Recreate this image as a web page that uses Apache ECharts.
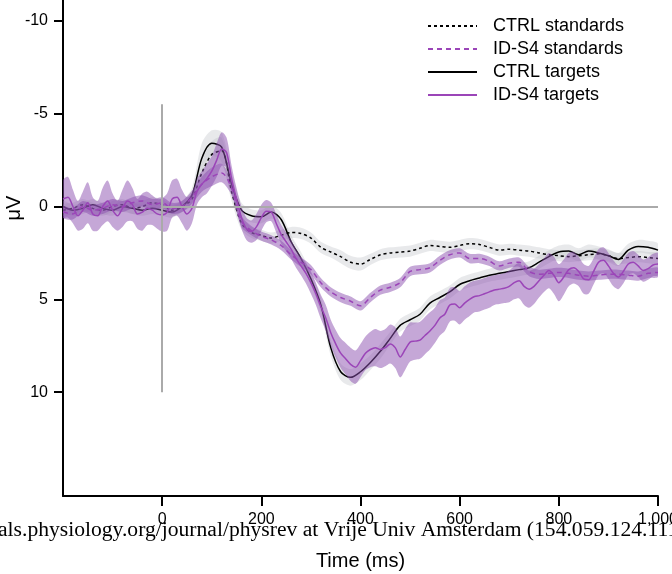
<!DOCTYPE html>
<html>
<head>
<meta charset="utf-8">
<script src="https://cdn.jsdelivr.net/npm/echarts@6/dist/echarts.min.js"></script>
<style>
  html, body { margin: 0; padding: 0; background: #fff; }
  #chart { width: 672px; height: 574px; }
</style>
</head>
<body>
<div id="chart"></div>
<script>
// sample times (ms)
const tCoarse = [-200, -180, -160, -140, -120, -100, -80, -60, -40, -20, 0, 20, 40, 60, 80, 100, 120, 140, 160, 180,
  200, 220, 240, 260, 280, 300, 320, 340, 360, 380, 400, 420, 440, 460, 480, 500, 520, 540, 560, 580,
  600, 620, 640, 660, 680, 700, 720, 740, 760, 780, 800, 820, 840, 860, 880, 900, 920, 940, 960, 980, 1000];
const tFine = [-200, -190, -180, -170, -160, -150, -140, -130, -120, -110, -100, -90, -80, -70, -60, -50, -40, -30, -20, -10,
  0, 10, 20, 30, 40, 50, 60, 70, 80, 90, 100, 110, 120, 130, 140, 150, 160, 170, 180, 190,
  200, 210, 220, 230, 240, 250, 260, 270, 280, 290, 300, 310, 320, 330, 340, 350, 360, 370, 380, 390,
  400, 410, 420, 430, 440, 450, 460, 470, 480, 490, 500, 510, 520, 530, 540, 550, 560, 570, 580, 590,
  600, 610, 620, 630, 640, 650, 660, 670, 680, 690, 700, 710, 720, 730, 740, 750, 760, 770, 780, 790,
  800, 810, 820, 830, 840, 850, 860, 870, 880, 890, 900, 910, 920, 930, 940, 950, 960, 970, 980, 990, 1000];

// CTRL standards (µV), on tCoarse
const ctrlStd = [0.2, 0.1, -0.1, 0.1, 0.2, 0.0, -0.1, 0.1, 0.0, -0.2, -0.1, 0.2, 0.0, -0.4, -1.8, -2.8, -3.0, -0.8, 0.9, 1.4,
  1.55, 1.7, 1.55, 1.4, 1.45, 1.7, 2.2, 2.45, 2.7, 3.0, 3.1, 2.85, 2.6, 2.5, 2.45, 2.4, 2.25, 2.1, 2.15, 2.2,
  2.1, 2.0, 2.05, 2.2, 2.35, 2.3, 2.35, 2.4, 2.5, 2.6, 2.65, 2.7, 2.65, 2.6, 2.55, 2.65, 2.8, 2.75, 2.7, 2.75, 2.8];
const ctrlStdW = [0.3, 0.3, 0.3, 0.3, 0.3, 0.3, 0.3, 0.3, 0.3, 0.3, 0.3, 0.3, 0.3, 0.35, 0.6, 0.7, 0.7, 0.5, 0.35, 0.3,
  0.3, 0.3, 0.3, 0.3, 0.3, 0.3, 0.3, 0.3, 0.35, 0.35, 0.35, 0.3, 0.3, 0.3, 0.3, 0.3, 0.3, 0.3, 0.3, 0.3,
  0.3, 0.3, 0.3, 0.3, 0.3, 0.3, 0.3, 0.3, 0.3, 0.3, 0.3, 0.3, 0.3, 0.3, 0.3, 0.3, 0.3, 0.3, 0.3, 0.3, 0.3];

// CTRL targets (µV), on tCoarse
const ctrlTgt = [0.0, 0.2, 0.1, -0.1, 0.1, 0.2, 0.0, 0.1, 0.2, 0.1, 0.2, 0.3, 0.0, -0.6, -2.6, -3.4, -3.2, -1.2, 0.2, 0.5,
  0.55, 0.3, 0.7, 1.9, 2.8, 3.9, 5.3, 7.6, 8.9, 9.2, 8.9, 8.4, 7.8, 7.1, 6.4, 6.1, 5.8, 5.2, 4.9, 4.6,
  4.2, 4.0, 3.85, 3.7, 3.6, 3.5, 3.4, 3.3, 3.0, 2.7, 2.45, 2.4, 2.6, 2.4, 2.5, 2.65, 2.85, 2.35, 2.15, 2.2, 2.35];
const ctrlTgtW = [0.3, 0.3, 0.3, 0.3, 0.3, 0.3, 0.3, 0.3, 0.3, 0.3, 0.3, 0.3, 0.3, 0.4, 0.8, 0.7, 0.8, 0.6, 0.4, 0.35,
  0.35, 0.35, 0.35, 0.35, 0.35, 0.35, 0.4, 0.45, 0.45, 0.45, 0.45, 0.4, 0.4, 0.35, 0.35, 0.35, 0.35, 0.35, 0.35, 0.35,
  0.35, 0.35, 0.35, 0.35, 0.35, 0.35, 0.35, 0.35, 0.35, 0.35, 0.35, 0.35, 0.35, 0.35, 0.35, 0.35, 0.35, 0.35, 0.35, 0.35, 0.35];

// ID-S4 standards (µV), on tCoarse
const idsStd = [0.3, 0.4, 0.0, 0.2, 0.1, -0.1, 0.0, -0.2, -0.3, -0.1, -0.2, 0.1, 0.0, -0.5, -1.2, -1.6, -1.8, -1.0, 0.8, 1.3,
  1.6, 1.8, 2.1, 2.6, 3.0, 3.4, 4.1, 4.6, 4.9, 5.1, 5.35, 4.9, 4.5, 4.35, 4.1, 3.5, 3.4, 3.3, 2.9, 2.6,
  2.5, 2.8, 2.8, 2.95, 3.2, 3.05, 3.0, 3.5, 3.65, 3.6, 3.55, 3.6, 3.7, 3.75, 3.7, 3.65, 3.65, 3.7, 3.75, 3.6, 3.55];
const idsStdW = [0.3, 0.3, 0.3, 0.3, 0.3, 0.3, 0.3, 0.3, 0.3, 0.3, 0.3, 0.3, 0.3, 0.35, 0.4, 0.5, 0.5, 0.4, 0.3, 0.25,
  0.25, 0.25, 0.25, 0.25, 0.25, 0.25, 0.25, 0.25, 0.25, 0.25, 0.25, 0.25, 0.25, 0.25, 0.25, 0.25, 0.25, 0.25, 0.25, 0.25,
  0.25, 0.25, 0.25, 0.25, 0.25, 0.25, 0.25, 0.25, 0.25, 0.25, 0.25, 0.25, 0.25, 0.25, 0.25, 0.25, 0.25, 0.25, 0.25, 0.25, 0.25];

// ID-S4 targets (µV), on tFine
const idsTgt = [-0.4, -0.5, 0.0, 0.5, 0.2, -0.2, 0.4, 0.5, 0.0, -0.3, 0.2, 0.5, 0.1, -0.3, -0.1, 0.4, 0.3, 0.1, 0.2, 0.4,
  0.45, 0.3, -0.4, -0.5, 0.0, 0.4, 0.1, -0.8, -1.2, -1.5, -1.9, -2.5, -3.1, -2.9, -1.5, -0.4, 0.6, 1.2, 1.35, 1.1,
  0.6, 0.25, 0.3, 0.9, 1.5, 1.9, 2.3, 2.8, 3.2, 3.6, 4.1, 4.7, 5.4, 6.0, 6.8, 7.4, 7.9, 8.2, 8.5, 8.65,
  8.3, 7.9, 7.7, 7.6, 7.7, 7.6, 7.4, 7.6, 8.1, 7.7, 7.3, 7.25, 7.2, 6.95, 6.7, 6.4, 6.0, 5.8, 5.3, 5.25,
  5.45, 5.2, 5.0, 4.85, 4.8, 4.7, 4.6, 4.5, 4.45, 4.4, 4.3, 4.1, 4.0, 4.3, 4.45, 4.3, 4.0, 3.7, 3.45, 3.7,
  4.1, 3.8, 3.4, 3.3, 3.5, 3.9, 3.95, 3.5, 3.0, 2.9, 3.2, 3.6, 3.8, 3.5, 3.1, 3.0, 3.2, 3.45, 3.35, 3.15, 3.1];
const idsTgtW = [1.0, 1.1, 0.9, 0.8, 1.0, 1.1, 0.9, 0.8, 1.0, 1.1, 0.9, 0.8, 1.0, 1.1, 0.9, 0.8, 1.0, 0.9, 0.8, 0.8,
  0.9, 1.0, 1.0, 1.0, 0.9, 0.9, 0.8, 0.7, 0.7, 0.8, 0.8, 0.9, 0.9, 0.8, 0.7, 0.6, 0.6, 0.6, 0.6, 0.7,
  0.7, 0.6, 0.5, 0.5, 0.5, 0.5, 0.5, 0.5, 0.5, 0.55, 0.6, 0.6, 0.65, 0.7, 0.7, 0.75, 0.8, 0.85, 0.9, 0.9,
  0.9, 0.9, 0.95, 1.0, 1.0, 1.0, 1.05, 1.1, 1.1, 1.1, 1.05, 1.0, 1.0, 1.0, 1.0, 0.95, 0.95, 0.9, 0.9, 0.9,
  0.9, 0.9, 0.9, 0.85, 0.85, 0.85, 0.85, 0.8, 0.8, 0.8, 0.85, 0.9, 0.95, 1.0, 1.0, 0.95, 0.9, 0.9, 0.95, 1.0,
  1.0, 0.95, 0.9, 0.85, 0.8, 0.8, 0.75, 0.7, 0.7, 0.7, 0.7, 0.7, 0.65, 0.65, 0.6, 0.6, 0.6, 0.6, 0.6, 0.6, 0.6];

const xTicks = [0, 200, 400, 600, 800, 1000];
const yTicks = [-10, -5, 0, 5, 10];
const legendNames = ['CTRL standards', 'ID-S4 standards', 'CTRL targets', 'ID-S4 targets'];

const FONT = '"Liberation Sans", Arial, Helvetica, sans-serif';
const PURPLE = '#9b45b8';
const GRAY_BAND = 'rgba(185,188,192,0.32)';
const PURPLE_BAND = 'rgba(140,80,175,0.5)';

function pairs(t, v) {
  return t.map((x, i) => [x, v[i]]);
}

// shaded band (value ± half width) drawn as one polygon through the grid's scales
function band(id, t, v, w, color, z) {
  return {
    type: 'custom', name: id, silent: true, z: z, clip: true,
    data: [[t[0], v[0]]],
    renderItem: function (params, api) {
      const upper = t.map((x, i) => api.coord([x, v[i] - w[i]]));
      const lower = t.map((x, i) => api.coord([x, v[i] + w[i]])).reverse();
      return {
        type: 'polygon',
        shape: { points: upper.concat(lower), smooth: 0.3 },
        style: { fill: color }
      };
    }
  };
}

function curve(name, t, v, color, type, z) {
  return {
    name: name, type: 'line', data: pairs(t, v), symbol: 'none', smooth: 0.3, z: z,
    lineStyle: { color: color, width: 1.5, type: type },
    itemStyle: { color: color }
  };
}

const chart = echarts.init(document.getElementById('chart'), null, { renderer: 'canvas' });

const ctrlStdLine = curve('CTRL standards', tCoarse, ctrlStd, '#000', [3, 3], 2);
ctrlStdLine.markLine = {
  silent: true, symbol: ['none', 'none'], label: { show: false },
  lineStyle: { color: '#aaaaaa', width: 2, type: 'solid' },
  data: [
    [{ coord: [0, -5.5] }, { coord: [0, 10] }],
    [{ coord: [0, 0] }, { coord: [1000, 0] }]
  ]
};

const option = {
  animation: false,
  backgroundColor: '#ffffff',
  grid: { left: 63, right: 14, top: 0, bottom: 78, containLabel: false, outerBoundsMode: 'none' },
  legend: {
    orient: 'vertical', left: 422, top: 12,
    itemWidth: 49, itemHeight: 12, itemGap: 5,
    selectedMode: false,
    itemStyle: { opacity: 0 },
    textStyle: { fontSize: 18, color: '#000', fontFamily: FONT, padding: [0, 0, 0, 11] },
    data: legendNames
  },
  xAxis: {
    type: 'value', min: -200, max: 1000, interval: 200,
    name: 'Time (ms)', nameLocation: 'middle', nameGap: 55,
    nameTextStyle: { fontSize: 20, color: '#000', fontFamily: FONT },
    axisLine: { show: true, onZero: false, lineStyle: { color: '#000', width: 2 } },
    axisTick: { show: true, length: 10, customValues: xTicks, lineStyle: { color: '#000', width: 2 } },
    axisLabel: { customValues: xTicks, fontSize: 16, color: '#000', fontFamily: FONT, margin: 16 },
    splitLine: { show: false }
  },
  yAxis: {
    type: 'value', inverse: true, min: -11.12, max: 15.59,
    axisLine: { show: true, onZero: false, lineStyle: { color: '#000', width: 2 } },
    axisTick: { show: true, length: 9, customValues: yTicks, lineStyle: { color: '#000', width: 2 } },
    axisLabel: { customValues: yTicks, fontSize: 16, color: '#000', fontFamily: FONT, margin: 15 },
    splitLine: { show: false }
  },
  graphic: [
    {
      type: 'text', x: 14, y: 208, rotation: Math.PI / 2,
      style: { text: 'μV', font: '20px ' + FONT, fill: '#000', align: 'center', verticalAlign: 'middle' }
    },
    {
      type: 'text', left: -2, top: 519, z: 100,
      style: {
        text: 'als.physiology.org/journal/physrev at Vrije Univ Amsterdam (154.059.124.111',
        font: '21.6px "Liberation Serif", "Times New Roman", serif', fill: '#000'
      }
    }
  ],
  series: [
    band('bCtrlStd', tCoarse, ctrlStd, ctrlStdW, GRAY_BAND, 1),
    band('bCtrlTgt', tCoarse, ctrlTgt, ctrlTgtW, GRAY_BAND, 1),
    ctrlStdLine,
    curve('CTRL targets', tCoarse, ctrlTgt, '#000', 'solid', 2),
    band('bIdsStd', tCoarse, idsStd, idsStdW, PURPLE_BAND, 3),
    band('bIdsTgt', tFine, idsTgt, idsTgtW, PURPLE_BAND, 3),
    curve('ID-S4 standards', tCoarse, idsStd, PURPLE, [5, 4], 4),
    curve('ID-S4 targets', tFine, idsTgt, PURPLE, 'solid', 4)
  ]
};

chart.setOption(option);
</script>
</body>
</html>
